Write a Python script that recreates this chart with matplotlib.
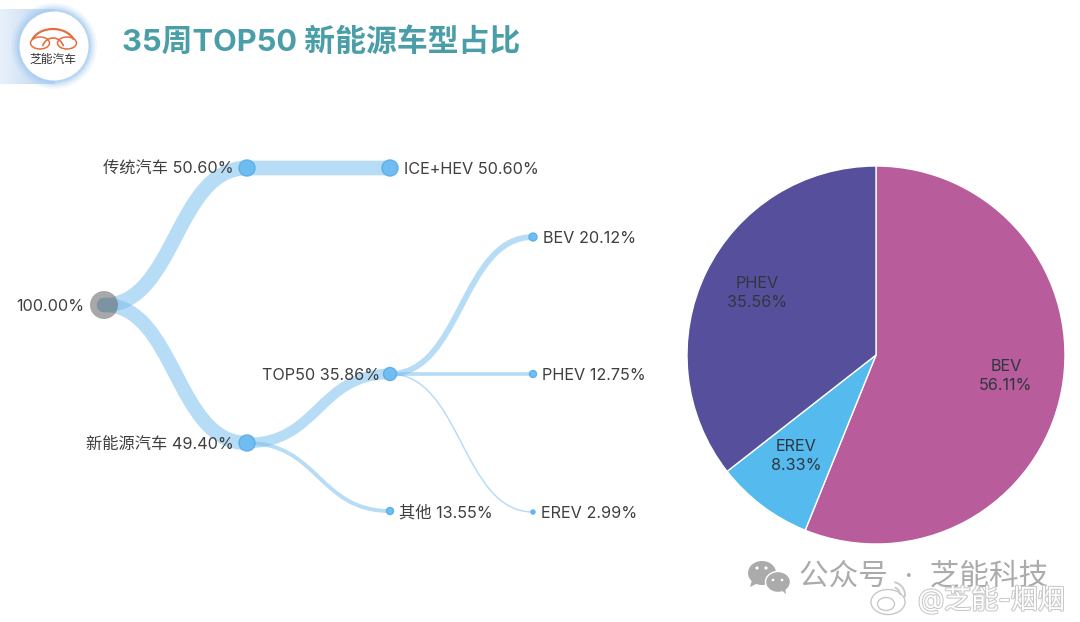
import numpy as np
import matplotlib.pyplot as plt
import matplotlib.patheffects as pe
from matplotlib.colors import LinearSegmentedColormap
from matplotlib.path import Path
from matplotlib.patches import PathPatch, Circle, Arc, Ellipse, Polygon

plt.rcParams['font.family'] = ['Inter', 'Noto Sans CJK SC', 'DejaVu Sans']

# tree data
node_names = ['', '传统汽车', '新能源汽车', 'ICE+HEV', 'TOP50', '其他', 'BEV', 'PHEV', 'EREV']
node_values = [100.00, 50.60, 49.40, 50.60, 35.86, 13.55, 20.12, 12.75, 2.99]
node_parent = [None, 0, 0, 1, 2, 2, 4, 4, 4]
node_x = [104, 247, 247, 390, 390, 390, 533, 533, 533]
node_y = [305, 168, 443, 168, 374, 511, 237, 374, 512]
node_r = [14, 8, 8, 8, 6.5, 3.5, 4, 3.5, 2]
label_x = [84, 234, 234, 404, 380, 399, 543, 542, 541]

# pie data
pie_names = ['BEV', 'EREV', 'PHEV']
pie_values = [56.11, 8.33, 35.56]
pie_colors = ['#b85c9b', '#55bbef', '#56509c']
pie_label_x = [1006, 796, 757]
pie_label_y = [376, 456, 293]

fig = plt.figure(figsize=(10.8, 6.22), dpi=100)
ax = fig.add_axes([0, 0, 1, 1])

# header band and logo
grad = np.linspace(0, 1, 100).reshape(1, -1)
ax.imshow(grad, extent=(0, 55, 84, 9), cmap=LinearSegmentedColormap.from_list('b', ['#e8f1fa', '#bcd4f2']),
          aspect='auto', zorder=1)
for r, a in zip([43, 41, 39, 37], [0.12, 0.2, 0.3, 0.6]):
    ax.add_patch(Circle((54, 46), r, color='#a8cdf0', alpha=a, lw=0, zorder=2))
ax.add_patch(Circle((54, 46), 34.5, color='white', lw=0, zorder=3))
logo = '#e2703f'
ax.add_patch(Ellipse((40, 43), 19, 12, fc='none', ec=logo, lw=1.1, zorder=4))
ax.add_patch(Ellipse((67, 43), 19, 12, fc='none', ec=logo, lw=1.1, zorder=4))
ax.add_patch(Arc((53, 45), 44, 32, theta1=195, theta2=345, color=logo, lw=1.6, zorder=4))
ax.add_patch(Arc((53, 50), 22, 24, theta1=200, theta2=340, color=logo, lw=1.2, zorder=4))
ax.text(53, 60, '芝能汽车', fontsize=8.5, color='#333333', ha='center', va='center', zorder=4)

ax.text(122, 42, '35周TOP50 新能源车型占比', fontsize=22.2, fontweight='bold', color='#4a9ea8',
        ha='left', va='center')

# links
for i, p in enumerate(node_parent):
    if p is None:
        continue
    x0, y0, x1, y1 = node_x[p], node_y[p], node_x[i], node_y[i]
    mx = (x0 + x1) / 2
    verts = [(x0, y0), (mx, y0), (mx, y1), (x1, y1)]
    path = Path(verts, [Path.MOVETO, Path.CURVE4, Path.CURVE4, Path.CURVE4])
    width = max(node_values[i] * 0.29, 1.5) * 0.72
    ax.add_patch(PathPatch(path, fc='none', ec='#7cc0ee', alpha=0.55, lw=width, capstyle='round', zorder=5))

# nodes and labels
for i, name in enumerate(node_names):
    if i == 0:
        ax.add_patch(Circle((node_x[i], node_y[i]), node_r[i], fc='#6a6a6a', alpha=0.58, lw=0, zorder=6))
    else:
        ax.add_patch(Circle((node_x[i], node_y[i]), node_r[i], fc='#6dbcf2', ec='#5aaee8', lw=1, alpha=0.95, zorder=6))
    txt = f'{name} {node_values[i]:.2f}%' if name else f'{node_values[i]:.2f}%'
    ha = 'right' if i in (0, 1, 2, 4) else 'left'
    ax.text(label_x[i], node_y[i] + 1.5, txt, fontsize=11.7, color='#3f3f3f', ha=ha, va='center', zorder=7)

# pie: y axis is flipped below, so counterclock here reads clockwise on screen
ax.set_xlim(0, 1080)
ax.set_ylim(622, 0)
wedges, _ = ax.pie(pie_values, colors=pie_colors, startangle=-90, counterclock=True,
                   center=(876, 355), radius=189, frame=True,
                   wedgeprops={'edgecolor': 'white', 'linewidth': 1, 'zorder': 5})
ax.set_xlim(0, 1080)
ax.set_ylim(622, 0)
ax.set_aspect('auto')
ax.axis('off')
for n, v, x, y in zip(pie_names, pie_values, pie_label_x, pie_label_y):
    ax.text(x, y, f'{n}\n{v:.2f}%', fontsize=11.7, color='#2f3640', ha='center', va='center',
            linespacing=1.3, zorder=8)

# wechat icon
wm = '#ababab'
ax.add_patch(Ellipse((762, 573), 28, 24, fc=wm, lw=0, zorder=8))
ax.add_patch(Polygon([(752, 580), (750, 587), (758, 583)], fc=wm, lw=0, zorder=8))
ax.add_patch(Ellipse((778, 582), 25, 21, fc=wm, ec='white', lw=1, zorder=8))
ax.add_patch(Polygon([(781, 590), (786, 594), (785, 587)], fc=wm, lw=0, zorder=8))
for ex, ey, ec, er in [(757, 568, 'white', 1.6), (766, 568, 'white', 1.6), (773, 580, 'white', 1.3), (782, 580, 'white', 1.3)]:
    ax.add_patch(Circle((ex, ey), er, fc=ec, lw=0, zorder=9))

# watermarks
ax.text(799, 577, '公众号  ·  芝能科技', fontsize=21.3, color=wm, ha='left', va='center', zorder=8)

# weibo icon
ax.add_patch(Ellipse((888, 602), 34, 25, fc='white', ec='#c8c8c8', lw=1, zorder=9))
ax.add_patch(Ellipse((886, 604), 17, 13, fc='none', ec='#c8c8c8', lw=1, zorder=10))
ax.add_patch(Arc((892, 595), 16, 16, theta1=-70, theta2=0, color='#c8c8c8', lw=1.3, zorder=10))
ax.add_patch(Arc((892, 595), 26, 26, theta1=-80, theta2=10, color='#c8c8c8', lw=1.3, zorder=10))

ax.text(918, 600, '@芝能-烟烟', fontsize=19.5, color='white', ha='left', va='center', zorder=11,
        path_effects=[pe.withStroke(linewidth=1.5, foreground='#c8c8c8')])

fig.savefig('out.png', dpi=100)
